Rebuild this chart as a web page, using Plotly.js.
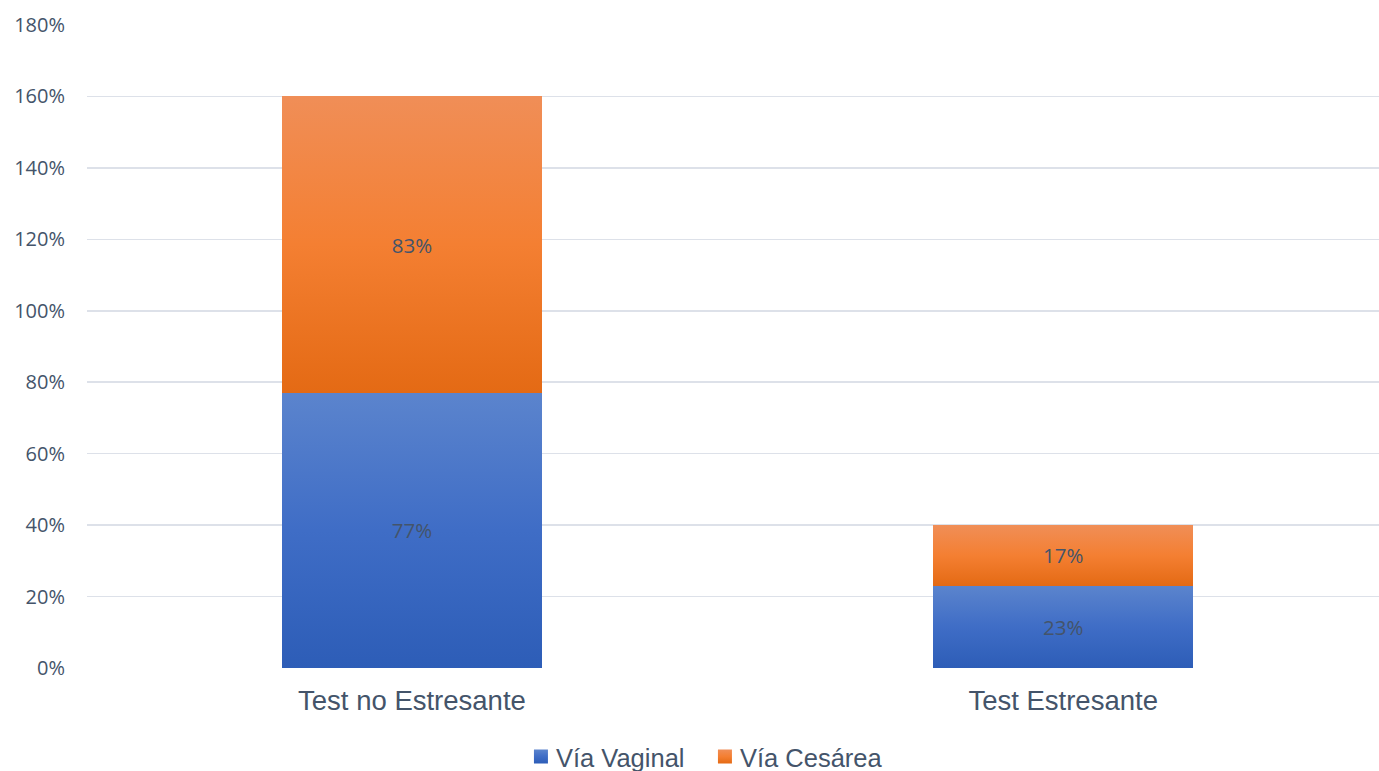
<!DOCTYPE html>
<html>
<head>
<meta charset="utf-8">
<script src="https://cdn.plot.ly/plotly-3.0.1.min.js"></script>
<style>html,body{margin:0;padding:0;background:#fff;}#chart{width:1379px;height:771px;}</style>
</head>
<body>
<div id="chart"></div>
<script>
const categories = ["Test no Estresante", "Test Estresante"];
const vaginal = [77, 23];
const cesarea = [83, 17];
const seriesNames = ["Vía Vaginal", "Vía Cesárea"];
const yTicks = [0, 20, 40, 60, 80, 100, 120, 140, 160, 180];

const textColor = "#44546A";
const labelFont = {family: "Open Sans, Noto Sans, sans-serif", size: 20.5, color: textColor};
const data = [
  {
    type: "bar", name: seriesNames[0], x: categories, y: vaginal,
    width: 0.4,
    marker: {color: "#3F6CC4", line: {width: 0}},
    text: vaginal.map(v => v + "%"), textposition: "inside", insidetextanchor: "middle",
    textfont: labelFont, constraintext: "none",
    hoverinfo: "skip"
  },
  {
    type: "bar", name: seriesNames[1], x: categories, y: cesarea,
    width: 0.4,
    marker: {color: "#F07F33", line: {width: 0}},
    text: cesarea.map(v => v + "%"), textposition: "inside", insidetextanchor: "middle",
    textfont: labelFont, constraintext: "none",
    hoverinfo: "skip"
  }
];

const layout = {
  width: 1379, height: 771,
  barmode: "stack",
  margin: {l: 87, r: 0, t: 25, b: 103, autoexpand: false},
  paper_bgcolor: "#fff", plot_bgcolor: "#fff",
  showlegend: true,
  legend: {
    orientation: "h", x: 0.332, xanchor: "left", y: -0.1384, yanchor: "middle",
    font: {family: "Liberation Sans, Arial, sans-serif", size: 25.5, color: textColor},
    traceorder: "normal", entrywidth: 139, entrywidthmode: "pixels"
  },
  xaxis: {
    type: "category", range: [-0.499, 1.485],
    showgrid: false, zeroline: false, showline: false, ticks: "",
    tickfont: {family: "Liberation Sans, Arial, sans-serif", size: 27.5, color: textColor},
    ticklabelstandoff: 13
  },
  yaxis: {
    range: [0, 180], tickvals: yTicks, ticktext: yTicks.map(v => v + "%"),
    showgrid: true, gridcolor: "#DDE1E9", gridwidth: 1.5,
    zeroline: false, showline: false, ticks: "",
    tickfont: {family: "Open Sans, Noto Sans, sans-serif", size: 20, color: textColor},
    ticklabelstandoff: 21
  }
};

Plotly.newPlot("chart", data, layout, {staticPlot: true}).then(function(gd) {
  const svg = gd.querySelector(".main-svg");
  const ns = "http://www.w3.org/2000/svg";
  let defs = svg.querySelector("defs");
  if (!defs) { defs = document.createElementNS(ns, "defs"); svg.insertBefore(defs, svg.firstChild); }
  function grad(id, stops) {
    const g = document.createElementNS(ns, "linearGradient");
    g.setAttribute("id", id);
    g.setAttribute("x1", "0"); g.setAttribute("y1", "0");
    g.setAttribute("x2", "0"); g.setAttribute("y2", "1");
    stops.forEach(s => {
      const st = document.createElementNS(ns, "stop");
      st.setAttribute("offset", s[0]);
      st.setAttribute("stop-color", s[1]);
      g.appendChild(st);
    });
    defs.appendChild(g);
  }
  grad("gBlue", [["0", "#5B84CD"], ["0.5", "#3F6DC6"], ["1", "#2D5DB7"]]);
  grad("gOrange", [["0", "#F08E57"], ["0.5", "#F47F32"], ["1", "#E46A14"]]);
  const ids = ["gBlue", "gOrange"];
  gd.querySelectorAll(".barlayer .trace").forEach((t, i) => {
    t.querySelectorAll(".point path").forEach(p => { p.style.fill = "url(#" + ids[i] + ")"; });
  });
  gd.querySelectorAll(".legend .traces").forEach((t, i) => {
    t.querySelectorAll(".legendpoints path").forEach(p => {
      p.setAttribute("d", "M-2,-7h14v14h-14z");
      p.style.fill = "url(#" + ids[i] + ")";
    });
  });
});
</script>
</body>
</html>
